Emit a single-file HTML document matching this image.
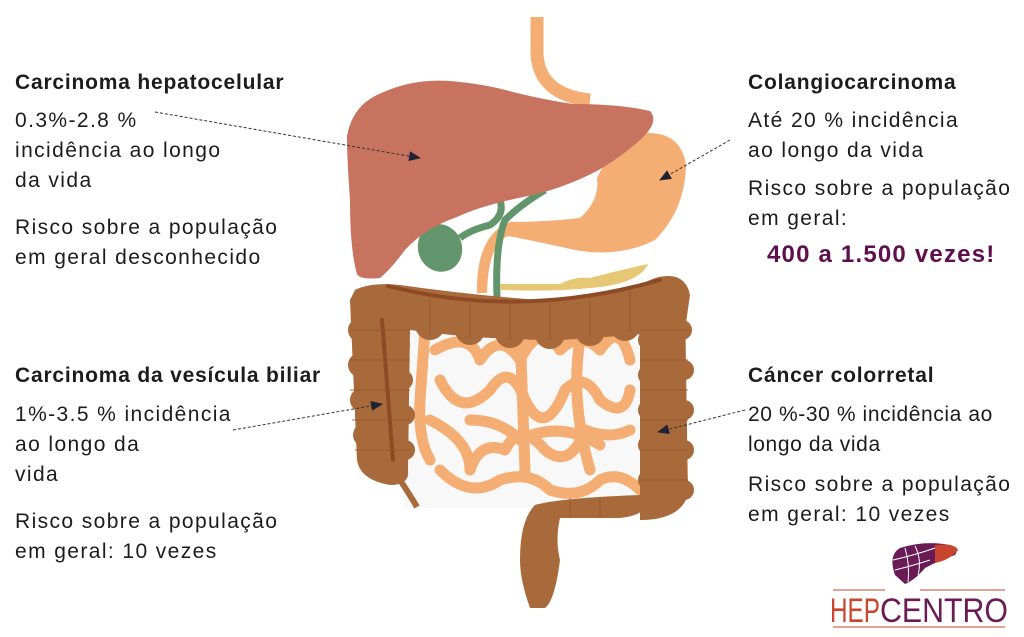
<!DOCTYPE html>
<html><head><meta charset="utf-8"><style>
html,body{margin:0;padding:0;background:#fff}
body{width:1024px;height:637px;position:relative;overflow:hidden;font-family:"Liberation Sans","DejaVu Sans",sans-serif;color:#1c1c1c}
.t{position:absolute;font-size:21px;line-height:30px;white-space:nowrap;letter-spacing:1.4px}
.h{font-weight:bold;font-size:21px;letter-spacing:0.8px}
</style></head><body>
<svg width="1024" height="637" style="position:absolute;left:0;top:0">
<defs><marker id="ar" markerWidth="12" markerHeight="10" refX="11" refY="5" orient="auto" markerUnits="userSpaceOnUse"><path d="M0,0 L12,5 L0,10 Z" fill="#1e2433"/></marker></defs>
<rect x="405" y="318" width="240" height="190" fill="#f8f8f8"/>
<path d="M537,17 L537,55 Q540,95 590,100" stroke="#f4ad72" stroke-width="13" fill="none"/>
<path d="M630,135 Q680,125 686,165 Q685,210 655,240 Q620,258 575,250 Q530,240 508,236 Q488,245 487,293 L477,293 Q476,235 510,222 Q545,222 580,218 Q600,200 597,178 Q610,150 630,135 Z" fill="#f4ad72"/>
<path d="M545,190 Q520,205 505,220 Q495,245 497,297" stroke="#62956b" stroke-width="7" fill="none"/>
<path d="M500,200 Q505,215 490,225 Q470,230 460,238" stroke="#62956b" stroke-width="7" fill="none"/>
<ellipse cx="440" cy="248" rx="22" ry="24" fill="#62956b" transform="rotate(-20 440 248)"/>
<path d="M347,136 Q352,108 375,96 Q410,78 450,81 Q485,84 513,92 Q545,100 573,104 Q620,104 650,111 Q660,122 640,140 Q620,158 597,171 Q560,190 523,197 Q480,206 457,217 Q425,228 405,250 Q390,270 380,278 Q360,280 357,274 Q350,250 350,200 Q347,160 347,136 Z" fill="#c87360"/>
<path d="M500,284 L560,284 Q575,276 590,278 Q620,270 648,264 Q640,282 600,287 Q560,292 500,290 Z" fill="#e6c874"/>
<g stroke="#f4ad72" stroke-width="11" fill="none" stroke-linecap="round" stroke-linejoin="round">
<path d="M425,330 L420,400 Q418,440 430,460"/>
<path d="M435,350 Q470,330 480,360 Q500,330 520,360 Q540,320 560,350 Q580,330 600,350 Q620,320 630,360"/>
<path d="M440,380 Q460,420 490,390 Q510,360 525,400 Q545,440 565,390 Q585,370 600,400 Q625,420 630,390"/>
<path d="M430,420 Q470,440 470,470 Q480,440 505,450 Q520,420 545,450 Q570,470 585,430 Q610,440 630,430"/>
<path d="M440,470 Q470,500 500,480 Q530,470 550,490 Q580,500 600,480 Q620,470 640,490"/>
<path d="M470,420 Q500,420 520,440 Q560,420 600,445"/>
<path d="M520,330 L525,470 M580,340 Q570,400 590,470"/>
</g>
<g fill="#a86a3a">
<path d="M355,290 Q370,282 400,285 Q470,295 540,300 Q610,298 655,278 Q685,270 690,295 L685,330 Q640,335 560,340 Q480,340 410,330 L408,470 Q410,485 390,485 Q360,480 357,460 L350,300 Z"/>
<path d="M640,300 L685,300 L688,495 Q680,520 640,520 L640,300 Z"/>
<path d="M650,495 Q650,515 620,518 L560,518 Q555,540 560,560 Q555,600 545,608 L530,608 Q520,580 520,560 Q520,520 535,505 Q560,498 640,495 Z"/>
<circle cx="430" cy="325" r="15"/><circle cx="470" cy="330" r="15"/><circle cx="510" cy="333" r="15"/><circle cx="550" cy="334" r="15"/><circle cx="590" cy="331" r="15"/><circle cx="625" cy="326" r="15"/>
<circle cx="360" cy="330" r="12"/><circle cx="360" cy="365" r="12"/><circle cx="362" cy="400" r="12"/><circle cx="365" cy="435" r="12"/>
<circle cx="400" cy="345" r="10"/><circle cx="403" cy="380" r="10"/><circle cx="405" cy="415" r="10"/><circle cx="405" cy="450" r="10"/>
<circle cx="648" cy="340" r="10"/><circle cx="648" cy="375" r="10"/><circle cx="648" cy="410" r="10"/><circle cx="648" cy="445" r="10"/><circle cx="648" cy="480" r="10"/>
<circle cx="682" cy="330" r="10"/><circle cx="684" cy="370" r="10"/><circle cx="684" cy="410" r="10"/><circle cx="684" cy="450" r="10"/><circle cx="684" cy="490" r="10"/>
</g>
<path d="M400,480 Q410,495 417,507" stroke="#a86a3a" stroke-width="6" fill="none"/>
<g stroke="#8e4a25" stroke-width="4" fill="none" stroke-linecap="round">
<path d="M388,286 Q520,320 660,280"/>
<path d="M382,320 L393,460"/>
</g>
<g stroke="#955a2e" stroke-width="1.2" fill="none" opacity=".7">
<path d="M350,330 H410 M350,360 H410 M350,390 H410 M352,420 H410 M355,450 H410 M640,330 H688 M640,360 H688 M640,390 H688 M640,420 H688 M640,450 H688 M640,480 H688 M430,295 V335 M470,298 V338 M510,300 V340 M550,300 V340 M590,298 V338 M630,290 V332 M600,498 V518 M570,498 V518"/>
</g>
<g stroke="#333" stroke-width="1" stroke-dasharray="3,2" fill="none">
<line x1="155" y1="112" x2="420" y2="158" marker-end="url(#ar)"/>
<line x1="730" y1="140" x2="660" y2="180" marker-end="url(#ar)"/>
<line x1="233" y1="430" x2="382" y2="404" marker-end="url(#ar)"/>
<line x1="745" y1="410" x2="658" y2="432" marker-end="url(#ar)"/>
</g>
<path d="M895,575 Q888,555 900,548 Q925,540 950,545 Q960,548 955,555 Q940,560 925,568 Q915,580 905,584 Z" fill="#6a1a55"/>
<path d="M935,545 Q955,543 958,550 Q950,560 935,563 Z" fill="#c8452e"/>
<g stroke="#fff" stroke-width="1" fill="none"><path d="M893,560 Q915,555 935,548 M895,570 Q915,565 930,560 M905,548 Q910,565 908,582 M915,546 Q922,560 918,575"/></g>
<line x1="833" y1="590" x2="885" y2="590" stroke="#c8452e" stroke-width="1"/>
<line x1="920" y1="590" x2="1005" y2="590" stroke="#c8452e" stroke-width="1"/>
<line x1="833" y1="627" x2="1005" y2="627" stroke="#c8452e" stroke-width="1"/>
<text x="830" y="622" font-family="Liberation Sans,sans-serif" font-size="34" fill="#c8452e" textLength="50" lengthAdjust="spacingAndGlyphs">HEP</text>
<text x="880" y="622" font-family="Liberation Sans,sans-serif" font-size="34" fill="#6a1a55" textLength="128" lengthAdjust="spacingAndGlyphs">CENTRO</text>
</svg>
<div class="t h" style="left:15px;top:68px">Carcinoma hepatocelular</div>
<div class="t" style="left:15px;top:106px">0.3%-2.8 %<br>incidência ao longo<br>da vida</div>
<div class="t" style="left:15px;top:213px">Risco sobre a população<br>em geral desconhecido</div>
<div class="t h" style="left:748px;top:68px">Colangiocarcinoma</div>
<div class="t" style="left:748px;top:106px">Até 20 % incidência<br>ao longo da vida</div>
<div class="t" style="left:748px;top:174px">Risco sobre a população<br>em geral:</div>
<div class="t h" style="left:767px;top:240px;color:#5e0f4c;font-size:24px;letter-spacing:1.2px">400 a 1.500 vezes!</div>
<div class="t h" style="left:15px;top:361px">Carcinoma da vesícula biliar</div>
<div class="t" style="left:15px;top:400px">1%-3.5 % incidência<br>ao longo da<br>vida</div>
<div class="t" style="left:15px;top:507px">Risco sobre a população<br>em geral: 10 vezes</div>
<div class="t h" style="left:748px;top:361px">Cáncer colorretal</div>
<div class="t" style="left:748px;top:400px;letter-spacing:0.6px">20 %-30 % incidência ao<br>longo da vida</div>
<div class="t" style="left:748px;top:470px">Risco sobre a população<br>em geral: 10 vezes</div>
</body></html>
